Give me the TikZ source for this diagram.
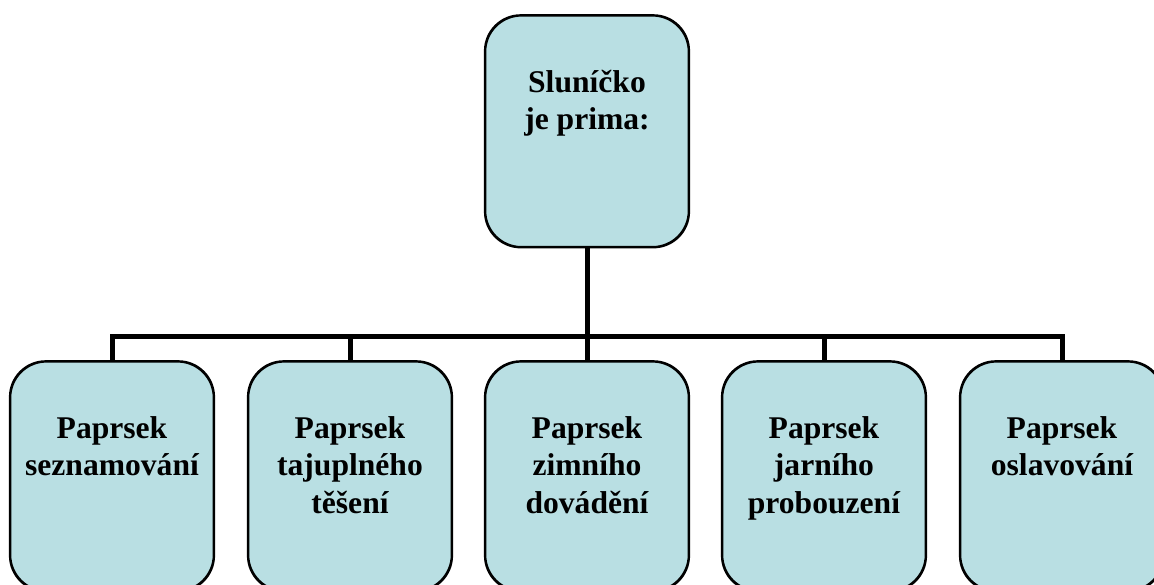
\documentclass[tikz,border=0pt]{standalone}
\usepackage{fontspec}
\setmainfont{Liberation Serif}
\definecolor{boxfill}{HTML}{B9DFE3}
\tikzset{
  box/.style={draw=black, line width=1.6pt, fill=boxfill, rounded corners=36pt,
    minimum width=203pt, inner sep=0pt, anchor=north},
  boxtext/.style={align=center, anchor=north, inner sep=0pt,
    font=\bfseries\fontsize{31.6}{37.5}\selectfont},
  conn/.style={draw=black, line width=5pt}
}
\newcommand{\firstline}{\rule{0pt}{25pt}}
\begin{document}
\begin{tikzpicture}[x=1pt,y=-1pt]
\useasboundingbox (0,0) rectangle (1154,585);
% boxes (shapes)
\node[box, minimum height=231pt] (top) at (587,15) {};
\foreach \i/\x in {1/112, 2/350, 3/587, 4/824, 5/1062}{
  \node[box, minimum height=229pt] (b\i) at (\x,361) {};
}
% connectors
\coordinate (bar) at (587,337);
\draw[conn] (top.south) -- (bar);
\draw[conn] (b1.north) |- (bar) -| (b5.north);
\draw[conn] (b2.north) -- (b2.north |- bar);
\draw[conn] (b3.north) -- (b3.north |- bar);
\draw[conn] (b4.north) -- (b4.north |- bar);
% redraw box outlines over connector ends
\draw[line width=1.6pt, rounded corners=36pt] (top.north west) rectangle (top.south east);
\foreach \i in {1,...,5}{
  \draw[line width=1.6pt, rounded corners=36pt] (b\i.north west) rectangle (b\i.south east);
}
% texts
\node[boxtext] (ttop) at ([yshift=-52pt]top.north) {\firstline Sluníčko\\je prima:};
\node[boxtext] (t1) at ([yshift=-52pt]b1.north) {\firstline Paprsek\\seznamování};
\node[boxtext] (t2) at ([yshift=-52pt]b2.north) {\firstline Paprsek\\tajuplného\\těšení};
\node[boxtext] (t3) at ([yshift=-52pt]b3.north) {\firstline Paprsek\\zimního\\dovádění};
\node[boxtext] (t4) at ([yshift=-52pt]b4.north) {\firstline Paprsek\\jarního\\probouzení};
\node[boxtext] (t5) at ([yshift=-52pt]b5.north) {\firstline Paprsek\\oslavování};
\end{tikzpicture}
\end{document}
